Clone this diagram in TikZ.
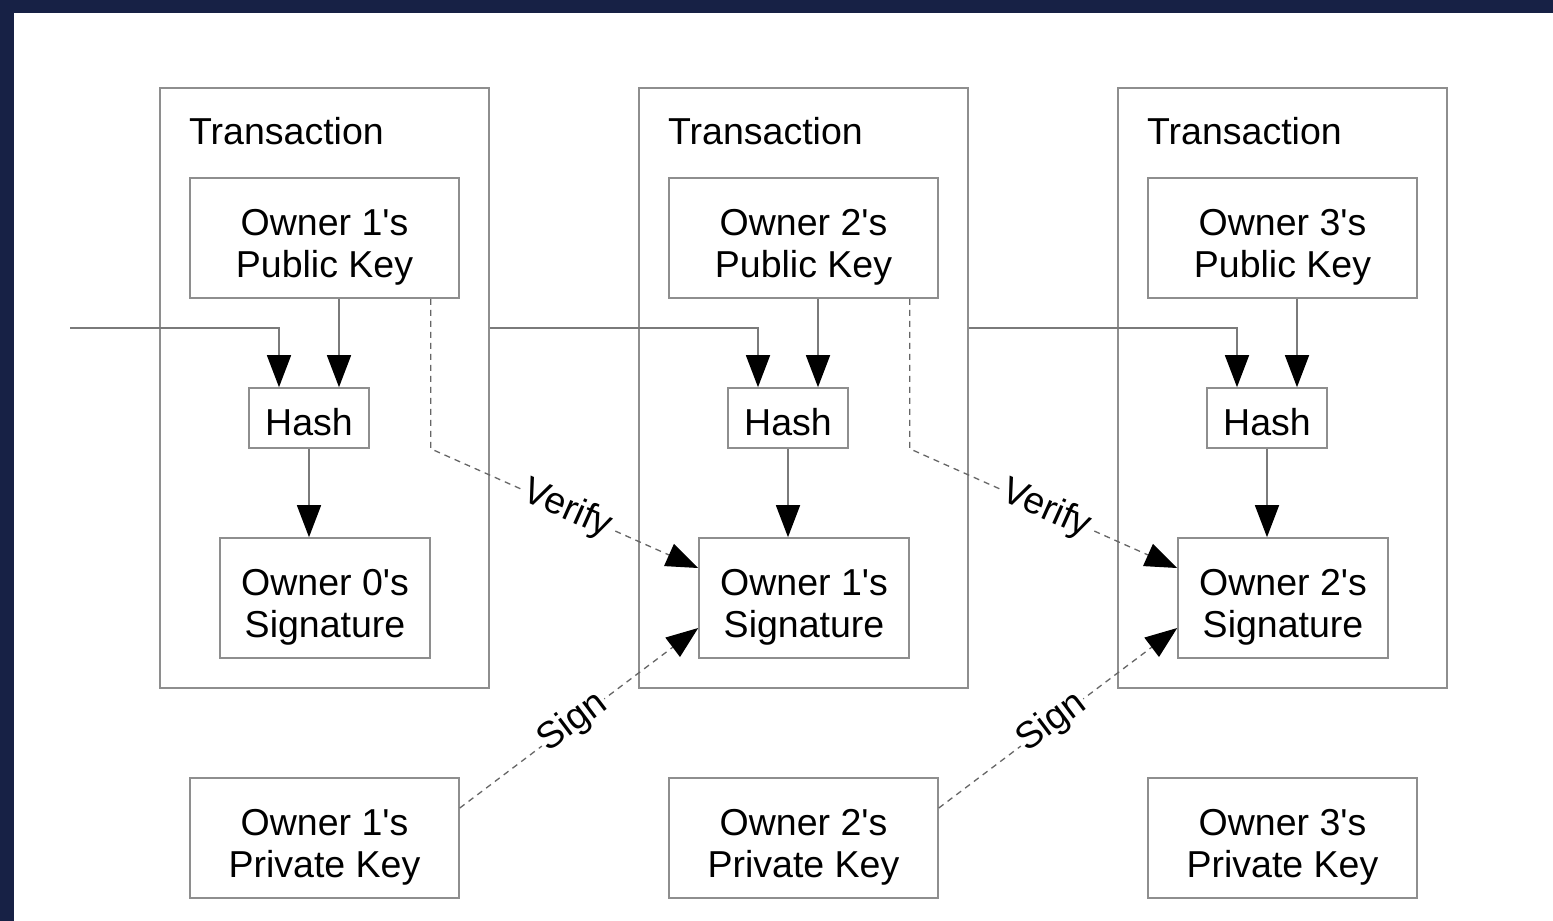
\documentclass[tikz,border=0pt]{standalone}
\usepackage{fontspec}
\setmainfont{Liberation Sans}
\usetikzlibrary{arrows.meta,calc}
\definecolor{navy}{HTML}{172145}
\definecolor{edge}{HTML}{8E8E8E}
\definecolor{wire}{HTML}{7A7A7A}
\definecolor{dashwire}{HTML}{666666}
\newcommand{\apos}{\textquotesingle}
\begin{document}
\begin{tikzpicture}[x=1pt,y=-1pt,
  txt/.style={font=\fontsize{37.5}{42}\selectfont},
  label/.style={txt,inner sep=0pt,align=center},
  box/.style={draw=edge,line width=1.6pt,inner sep=0pt},
  txbox/.style={box,minimum width=329pt,minimum height=600pt},
  keybox/.style={box,minimum width=269pt,minimum height=120pt},
  hashbox/.style={box,minimum width=120pt,minimum height=60pt},
  sigbox/.style={box,minimum width=210pt,minimum height=120pt},
  tip/.style={-{Triangle[length=32pt,width=24pt,color=black]}},
  flow/.style={tip,draw=wire,line width=1.5pt},
  link/.style={tip,draw=dashwire,line width=1.3pt,dash pattern=on 6pt off 5pt},
  tag/.style={txt,sloped,fill=white,inner sep=1.5pt}
]
% canvas and frame
\useasboundingbox (0,0) rectangle (1553,921);
\fill[white] (0,0) rectangle (1553,921);
\fill[navy] (0,0) rectangle (1553,13);
\fill[navy] (0,0) rectangle (14,921);

% three transaction columns
\foreach \i/\dx in {1/0,2/479,3/958}{
  \pgfmathtruncatemacro{\prev}{\i-1}
  \node[txbox] (tx\i) at (324.5+\dx,388) {};
  \node[label,anchor=west] (title\i) at (189+\dx,131) {Transaction};
  \node[keybox] (pk\i) at (324.5+\dx,238) {};
  \node[label] (pkt\i) at ($(pk\i)+(0,9)$) {Owner \i\apos s\\Public Key};
  \node[hashbox] (hash\i) at (309+\dx,418) {};
  \node[label] (hasht\i) at ($(hash\i)+(0,4)$) {Hash};
  \node[sigbox] (sig\i) at (325+\dx,598) {};
  \node[label] (sigt\i) at ($(sig\i)+(0,9)$) {Owner \prev\apos s\\Signature};
  \node[keybox] (sk\i) at (324.5+\dx,838) {};
  \node[label] (skt\i) at ($(sk\i)+(0,9)$) {Owner \i\apos s\\Private Key};
  \coordinate (hin\i) at ($(hash\i.north)+(-30,0)$);
  \coordinate (hpk\i) at ($(hash\i.north)+(30,0)$);
  \draw[flow] (pk\i.south -| hpk\i) -- (hpk\i);
  \draw[flow] (hash\i.south) -- (hash\i.south |- sig\i.north);
}

% chain of hashes from one transaction to the next
\coordinate (start) at (70,328);
\draw[flow] (start) -| (hin1);
\foreach \i/\j in {1/2,2/3}{
  \draw[flow] ($(tx\i.east)+(0,-60)$) -| (hin\j);
}

% verification and signing links
\foreach \i/\j in {1/2,2/3}{
  \coordinate (vs\i) at ($(pk\i.south east)+(-29,0)$);
  \draw[link] (vs\i) -- (vs\i |- hash\i.south)
    -- node[tag,pos=0.51] {Verify} ($(sig\j.west)+(0,-30)$);
  \draw[link] ($(sk\i.east)+(0,-30)$)
    -- node[tag,pos=0.475] {Sign} ($(sig\j.west)+(0,30)$);
}
\end{tikzpicture}
\end{document}
